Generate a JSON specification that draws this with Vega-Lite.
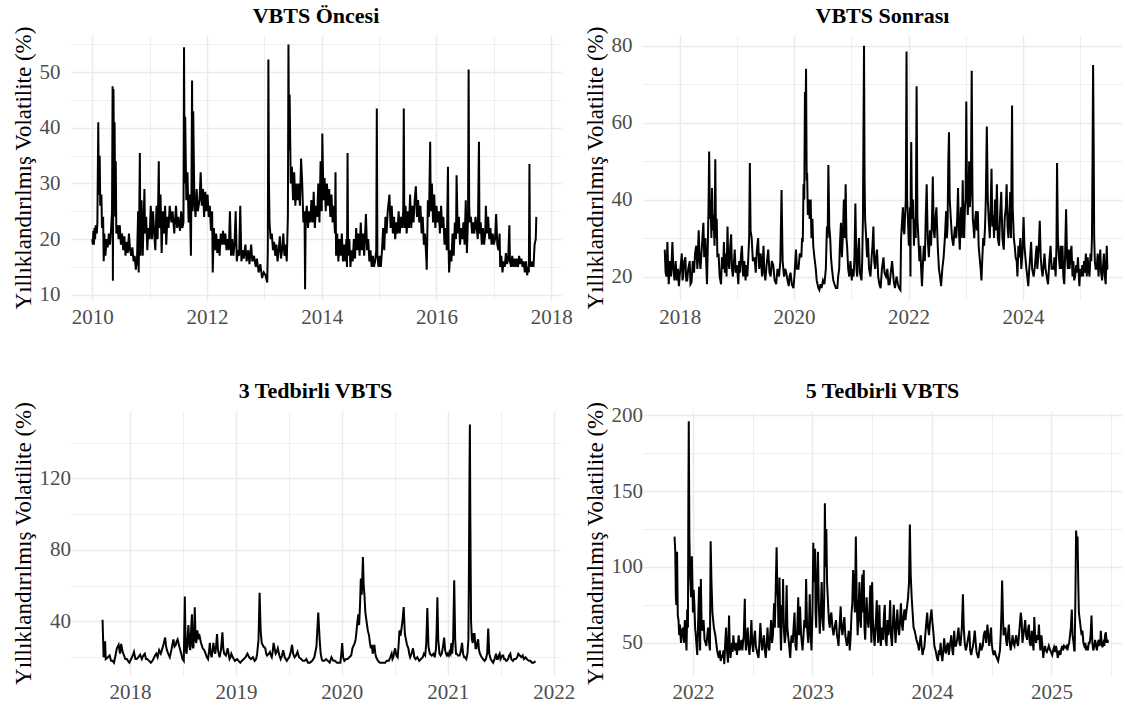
{
"$schema": "https://vega.github.io/schema/vega-lite/v6.json",
"background": "white",
"padding": {"left": 11, "top": 4, "right": 4, "bottom": 2},
"config": {
 "font": "Liberation Serif",
 "view": {"stroke": null},
 "title": {"fontSize": 22, "fontWeight": "bold", "color": "black", "anchor": "middle", "offset": -2},
 "axis": {"domain": false, "ticks": false, "tickSize": 0, "labelFontSize": 21, "labelColor": "#4D4D4D", "titleFontSize": 23, "titleFontWeight": "normal", "titleColor": "black", "gridColor": "#EBEBEB", "labelOverlap": false, "labelFlush": false},
 "axisX": {"labelPadding": 6},
 "axisY": {"labelPadding": 11, "titlePadding": 4},
 "line": {"color": "black", "strokeWidth": 2}
},
"datasets": {
"p1": [
{"t":2010.00,"v":20},{"t":2010.01,"v":19},{"t":2010.02,"v":21.5},{"t":2010.03,"v":19},{"t":2010.04,"v":22},{"t":2010.05,"v":20},{"t":2010.06,"v":22.5},{"t":2010.08,"v":21},{"t":2010.09,"v":23},{"t":2010.105,"v":41},{"t":2010.115,"v":28},{"t":2010.13,"v":35},{"t":2010.14,"v":26},{"t":2010.16,"v":28},{"t":2010.17,"v":22},{"t":2010.19,"v":24},{"t":2010.20,"v":16},{"t":2010.21,"v":21},{"t":2010.23,"v":17},{"t":2010.25,"v":20},{"t":2010.27,"v":18.5},{"t":2010.29,"v":21},{"t":2010.31,"v":19},{"t":2010.33,"v":22},{"t":2010.345,"v":25},{"t":2010.355,"v":47.5},{"t":2010.36,"v":12.5},{"t":2010.37,"v":47},{"t":2010.38,"v":34},{"t":2010.39,"v":41},{"t":2010.40,"v":24},{"t":2010.41,"v":34},{"t":2010.42,"v":21},{"t":2010.44,"v":22.5},{"t":2010.46,"v":20},{"t":2010.48,"v":22.5},{"t":2010.50,"v":19},{"t":2010.52,"v":21},{"t":2010.54,"v":18},{"t":2010.56,"v":20.5},{"t":2010.58,"v":17},{"t":2010.60,"v":19.5},{"t":2010.62,"v":17.5},{"t":2010.64,"v":21},{"t":2010.66,"v":18},{"t":2010.68,"v":17},{"t":2010.70,"v":18.5},{"t":2010.72,"v":16},{"t":2010.74,"v":17},{"t":2010.76,"v":14.5},{"t":2010.78,"v":16},{"t":2010.80,"v":25},{"t":2010.81,"v":14},{"t":2010.83,"v":35.5},{"t":2010.84,"v":17},{"t":2010.86,"v":27},{"t":2010.88,"v":17},{"t":2010.91,"v":29},{"t":2010.92,"v":21},{"t":2010.94,"v":24},{"t":2010.96,"v":18},{"t":2010.98,"v":22},{"t":2011.00,"v":20},{"t":2011.02,"v":26},{"t":2011.04,"v":20},{"t":2011.06,"v":25},{"t":2011.08,"v":21},{"t":2011.10,"v":18},{"t":2011.12,"v":26},{"t":2011.14,"v":20},{"t":2011.16,"v":34},{"t":2011.17,"v":22},{"t":2011.19,"v":28},{"t":2011.21,"v":17.5},{"t":2011.23,"v":25},{"t":2011.25,"v":21},{"t":2011.27,"v":26},{"t":2011.29,"v":19},{"t":2011.31,"v":24},{"t":2011.33,"v":22},{"t":2011.35,"v":26},{"t":2011.38,"v":23},{"t":2011.40,"v":25},{"t":2011.43,"v":21},{"t":2011.46,"v":26},{"t":2011.48,"v":22},{"t":2011.50,"v":24},{"t":2011.53,"v":21.5},{"t":2011.55,"v":25},{"t":2011.57,"v":22},{"t":2011.59,"v":23},{"t":2011.60,"v":54.5},{"t":2011.61,"v":30},{"t":2011.62,"v":42},{"t":2011.64,"v":27},{"t":2011.66,"v":32},{"t":2011.68,"v":23},{"t":2011.70,"v":28},{"t":2011.72,"v":17},{"t":2011.73,"v":30},{"t":2011.74,"v":48.5},{"t":2011.75,"v":25},{"t":2011.76,"v":43},{"t":2011.78,"v":27},{"t":2011.80,"v":24},{"t":2011.82,"v":29},{"t":2011.84,"v":25},{"t":2011.87,"v":27},{"t":2011.89,"v":32},{"t":2011.91,"v":26},{"t":2011.93,"v":29},{"t":2011.95,"v":24},{"t":2011.97,"v":28.5},{"t":2011.99,"v":25},{"t":2012.01,"v":28},{"t":2012.03,"v":24},{"t":2012.05,"v":26},{"t":2012.07,"v":21.5},{"t":2012.09,"v":25},{"t":2012.10,"v":14},{"t":2012.12,"v":22},{"t":2012.14,"v":18},{"t":2012.16,"v":21},{"t":2012.18,"v":17.5},{"t":2012.20,"v":20},{"t":2012.22,"v":17},{"t":2012.24,"v":21},{"t":2012.26,"v":19},{"t":2012.28,"v":21.5},{"t":2012.30,"v":19},{"t":2012.32,"v":21},{"t":2012.34,"v":18},{"t":2012.36,"v":20},{"t":2012.38,"v":18},{"t":2012.40,"v":25},{"t":2012.42,"v":17},{"t":2012.44,"v":20},{"t":2012.46,"v":17},{"t":2012.48,"v":19},{"t":2012.50,"v":25},{"t":2012.52,"v":16},{"t":2012.54,"v":18},{"t":2012.56,"v":17},{"t":2012.58,"v":26},{"t":2012.60,"v":16},{"t":2012.62,"v":18},{"t":2012.64,"v":16.5},{"t":2012.67,"v":19},{"t":2012.69,"v":16},{"t":2012.72,"v":18},{"t":2012.74,"v":15.5},{"t":2012.77,"v":19},{"t":2012.79,"v":16},{"t":2012.82,"v":17},{"t":2012.85,"v":15},{"t":2012.87,"v":16.5},{"t":2012.90,"v":14},{"t":2012.93,"v":15.5},{"t":2012.96,"v":13},{"t":2012.99,"v":14},{"t":2013.02,"v":13.5},{"t":2013.05,"v":12.2},{"t":2013.06,"v":18},{"t":2013.07,"v":52.3},{"t":2013.08,"v":30},{"t":2013.09,"v":23},{"t":2013.11,"v":20},{"t":2013.13,"v":21},{"t":2013.15,"v":18},{"t":2013.17,"v":19.5},{"t":2013.19,"v":17},{"t":2013.21,"v":19},{"t":2013.23,"v":16},{"t":2013.25,"v":18},{"t":2013.27,"v":20.5},{"t":2013.29,"v":16.5},{"t":2013.31,"v":18},{"t":2013.33,"v":21},{"t":2013.35,"v":17},{"t":2013.37,"v":19},{"t":2013.39,"v":16},{"t":2013.40,"v":20},{"t":2013.41,"v":24},{"t":2013.42,"v":55},{"t":2013.43,"v":36},{"t":2013.44,"v":46},{"t":2013.46,"v":30},{"t":2013.48,"v":33},{"t":2013.50,"v":27},{"t":2013.52,"v":32},{"t":2013.54,"v":26},{"t":2013.56,"v":30},{"t":2013.58,"v":27},{"t":2013.60,"v":30},{"t":2013.62,"v":26},{"t":2013.64,"v":34.5},{"t":2013.66,"v":30},{"t":2013.68,"v":23},{"t":2013.70,"v":25},{"t":2013.71,"v":11},{"t":2013.72,"v":24},{"t":2013.74,"v":26},{"t":2013.76,"v":22},{"t":2013.78,"v":25},{"t":2013.80,"v":23},{"t":2013.82,"v":27},{"t":2013.84,"v":23},{"t":2013.86,"v":28.5},{"t":2013.88,"v":22},{"t":2013.90,"v":26},{"t":2013.92,"v":24},{"t":2013.94,"v":30},{"t":2013.96,"v":23},{"t":2013.98,"v":34},{"t":2014.00,"v":25},{"t":2014.01,"v":39},{"t":2014.03,"v":27},{"t":2014.05,"v":31},{"t":2014.07,"v":25},{"t":2014.09,"v":30},{"t":2014.11,"v":26},{"t":2014.13,"v":29},{"t":2014.15,"v":24},{"t":2014.17,"v":28},{"t":2014.19,"v":23},{"t":2014.21,"v":26},{"t":2014.23,"v":21},{"t":2014.24,"v":32},{"t":2014.25,"v":17},{"t":2014.27,"v":21},{"t":2014.29,"v":16},{"t":2014.31,"v":20},{"t":2014.33,"v":17},{"t":2014.35,"v":21},{"t":2014.37,"v":16},{"t":2014.39,"v":19},{"t":2014.41,"v":16},{"t":2014.43,"v":20},{"t":2014.44,"v":15},{"t":2014.45,"v":35.5},{"t":2014.46,"v":17},{"t":2014.48,"v":20},{"t":2014.50,"v":15},{"t":2014.52,"v":18},{"t":2014.54,"v":16},{"t":2014.56,"v":20},{"t":2014.58,"v":16.5},{"t":2014.60,"v":22},{"t":2014.62,"v":18},{"t":2014.64,"v":21},{"t":2014.66,"v":17},{"t":2014.68,"v":23},{"t":2014.70,"v":18},{"t":2014.72,"v":21},{"t":2014.74,"v":17},{"t":2014.77,"v":24.5},{"t":2014.79,"v":18},{"t":2014.81,"v":20},{"t":2014.83,"v":16},{"t":2014.85,"v":18},{"t":2014.87,"v":15},{"t":2014.89,"v":17},{"t":2014.91,"v":15},{"t":2014.93,"v":16},{"t":2014.95,"v":18},{"t":2014.96,"v":43.5},{"t":2014.97,"v":17},{"t":2014.99,"v":15},{"t":2015.01,"v":17},{"t":2015.03,"v":15},{"t":2015.05,"v":18},{"t":2015.07,"v":22},{"t":2015.09,"v":18},{"t":2015.11,"v":24},{"t":2015.13,"v":21},{"t":2015.15,"v":25},{"t":2015.18,"v":28},{"t":2015.20,"v":22},{"t":2015.22,"v":26},{"t":2015.24,"v":21},{"t":2015.26,"v":24},{"t":2015.28,"v":20},{"t":2015.30,"v":23},{"t":2015.32,"v":21},{"t":2015.34,"v":25},{"t":2015.36,"v":21},{"t":2015.38,"v":24},{"t":2015.40,"v":22},{"t":2015.42,"v":25},{"t":2015.43,"v":43.5},{"t":2015.44,"v":22},{"t":2015.46,"v":26},{"t":2015.48,"v":21},{"t":2015.50,"v":25},{"t":2015.52,"v":22},{"t":2015.54,"v":28},{"t":2015.56,"v":22},{"t":2015.58,"v":26},{"t":2015.60,"v":23},{"t":2015.62,"v":27},{"t":2015.64,"v":29.5},{"t":2015.66,"v":24},{"t":2015.68,"v":27},{"t":2015.70,"v":23},{"t":2015.72,"v":26},{"t":2015.74,"v":21},{"t":2015.76,"v":24},{"t":2015.78,"v":19},{"t":2015.80,"v":21},{"t":2015.82,"v":17},{"t":2015.83,"v":14.5},{"t":2015.85,"v":27},{"t":2015.87,"v":24},{"t":2015.89,"v":37.5},{"t":2015.90,"v":25},{"t":2015.92,"v":30},{"t":2015.94,"v":23},{"t":2015.96,"v":28},{"t":2015.98,"v":22},{"t":2016.00,"v":26},{"t":2016.02,"v":23},{"t":2016.04,"v":25},{"t":2016.06,"v":21},{"t":2016.08,"v":26},{"t":2016.10,"v":22},{"t":2016.12,"v":24},{"t":2016.14,"v":19},{"t":2016.16,"v":22},{"t":2016.18,"v":18},{"t":2016.20,"v":33},{"t":2016.21,"v":19},{"t":2016.22,"v":14},{"t":2016.24,"v":18},{"t":2016.26,"v":16},{"t":2016.28,"v":21},{"t":2016.30,"v":17},{"t":2016.32,"v":23},{"t":2016.34,"v":20},{"t":2016.35,"v":31.5},{"t":2016.37,"v":21},{"t":2016.39,"v":24},{"t":2016.41,"v":19},{"t":2016.43,"v":22},{"t":2016.45,"v":20},{"t":2016.47,"v":23},{"t":2016.49,"v":19},{"t":2016.51,"v":27},{"t":2016.53,"v":17.5},{"t":2016.55,"v":24},{"t":2016.56,"v":50.5},{"t":2016.57,"v":26},{"t":2016.58,"v":23},{"t":2016.60,"v":24},{"t":2016.62,"v":21},{"t":2016.64,"v":23},{"t":2016.66,"v":21},{"t":2016.68,"v":24},{"t":2016.70,"v":22},{"t":2016.72,"v":20},{"t":2016.74,"v":37.5},{"t":2016.75,"v":21},{"t":2016.77,"v":23},{"t":2016.79,"v":19},{"t":2016.81,"v":22},{"t":2016.83,"v":19},{"t":2016.85,"v":21},{"t":2016.86,"v":26},{"t":2016.88,"v":21},{"t":2016.90,"v":24},{"t":2016.92,"v":20},{"t":2016.94,"v":22},{"t":2016.96,"v":19},{"t":2016.98,"v":21},{"t":2017.00,"v":19},{"t":2017.02,"v":20},{"t":2017.04,"v":24.5},{"t":2017.06,"v":19},{"t":2017.08,"v":18},{"t":2017.10,"v":21},{"t":2017.11,"v":15},{"t":2017.13,"v":17},{"t":2017.15,"v":14},{"t":2017.17,"v":16},{"t":2017.19,"v":15},{"t":2017.21,"v":17.5},{"t":2017.23,"v":15.5},{"t":2017.25,"v":16.5},{"t":2017.27,"v":22.5},{"t":2017.28,"v":16},{"t":2017.30,"v":15},{"t":2017.32,"v":17},{"t":2017.34,"v":15},{"t":2017.36,"v":16.5},{"t":2017.38,"v":15},{"t":2017.40,"v":16.5},{"t":2017.42,"v":15},{"t":2017.44,"v":17},{"t":2017.46,"v":15.5},{"t":2017.48,"v":16.5},{"t":2017.50,"v":15},{"t":2017.52,"v":16},{"t":2017.54,"v":14},{"t":2017.56,"v":16},{"t":2017.58,"v":13.5},{"t":2017.60,"v":15},{"t":2017.61,"v":14},{"t":2017.62,"v":33.5},{"t":2017.63,"v":16},{"t":2017.65,"v":15},{"t":2017.67,"v":16},{"t":2017.69,"v":15},{"t":2017.71,"v":19},{"t":2017.73,"v":20},{"t":2017.74,"v":24}
],
"p2": [
{"t":2017.74,"v":27},{"t":2017.755,"v":21},{"t":2017.77,"v":20},{"t":2017.786,"v":29},{"t":2017.80,"v":22},{"t":2017.81,"v":18},{"t":2017.83,"v":24},{"t":2017.85,"v":20},{"t":2017.874,"v":29},{"t":2017.89,"v":22},{"t":2017.91,"v":19},{"t":2017.93,"v":24},{"t":2017.95,"v":19},{"t":2017.97,"v":22},{"t":2017.987,"v":17.5},{"t":2018.00,"v":20},{"t":2018.02,"v":23},{"t":2018.038,"v":26},{"t":2018.05,"v":19},{"t":2018.063,"v":20},{"t":2018.08,"v":24},{"t":2018.10,"v":25},{"t":2018.115,"v":19},{"t":2018.132,"v":19},{"t":2018.15,"v":22},{"t":2018.176,"v":24},{"t":2018.19,"v":18},{"t":2018.208,"v":18.5},{"t":2018.23,"v":24},{"t":2018.252,"v":21},{"t":2018.27,"v":26},{"t":2018.29,"v":28},{"t":2018.31,"v":22},{"t":2018.333,"v":32},{"t":2018.35,"v":24},{"t":2018.365,"v":22},{"t":2018.39,"v":28},{"t":2018.415,"v":34},{"t":2018.43,"v":25},{"t":2018.45,"v":30},{"t":2018.478,"v":18},{"t":2018.49,"v":26},{"t":2018.505,"v":38},{"t":2018.516,"v":52.5},{"t":2018.53,"v":35},{"t":2018.541,"v":40},{"t":2018.555,"v":30},{"t":2018.566,"v":43},{"t":2018.58,"v":32},{"t":2018.592,"v":36},{"t":2018.61,"v":28},{"t":2018.623,"v":50.5},{"t":2018.635,"v":30},{"t":2018.648,"v":35},{"t":2018.66,"v":25},{"t":2018.68,"v":26},{"t":2018.70,"v":20},{"t":2018.724,"v":18},{"t":2018.74,"v":25},{"t":2018.76,"v":22},{"t":2018.774,"v":29},{"t":2018.79,"v":21},{"t":2018.806,"v":26},{"t":2018.82,"v":20},{"t":2018.837,"v":33},{"t":2018.85,"v":24},{"t":2018.868,"v":22},{"t":2018.885,"v":28},{"t":2018.90,"v":31},{"t":2018.915,"v":22},{"t":2018.931,"v":20},{"t":2018.95,"v":24},{"t":2018.963,"v":27},{"t":2018.98,"v":21},{"t":2019.00,"v":23},{"t":2019.026,"v":18},{"t":2019.04,"v":24},{"t":2019.057,"v":21},{"t":2019.075,"v":26},{"t":2019.089,"v":28},{"t":2019.11,"v":20},{"t":2019.13,"v":24},{"t":2019.152,"v":19},{"t":2019.17,"v":23},{"t":2019.183,"v":20},{"t":2019.20,"v":25},{"t":2019.215,"v":30},{"t":2019.227,"v":49.5},{"t":2019.24,"v":32},{"t":2019.259,"v":30},{"t":2019.28,"v":24},{"t":2019.309,"v":25},{"t":2019.33,"v":21},{"t":2019.35,"v":27},{"t":2019.372,"v":30},{"t":2019.39,"v":22},{"t":2019.416,"v":26},{"t":2019.44,"v":20},{"t":2019.466,"v":28},{"t":2019.48,"v":21},{"t":2019.498,"v":19},{"t":2019.52,"v":23},{"t":2019.548,"v":27},{"t":2019.57,"v":21},{"t":2019.592,"v":20},{"t":2019.61,"v":24},{"t":2019.636,"v":23},{"t":2019.66,"v":19},{"t":2019.687,"v":18},{"t":2019.71,"v":22},{"t":2019.737,"v":20},{"t":2019.76,"v":24},{"t":2019.781,"v":42.5},{"t":2019.80,"v":24},{"t":2019.825,"v":20},{"t":2019.845,"v":22},{"t":2019.863,"v":21},{"t":2019.885,"v":19},{"t":2019.907,"v":17.5},{"t":2019.92,"v":20},{"t":2019.938,"v":21},{"t":2019.96,"v":18},{"t":2019.989,"v":17},{"t":2020.01,"v":21},{"t":2020.033,"v":27},{"t":2020.05,"v":22},{"t":2020.077,"v":22},{"t":2020.10,"v":26},{"t":2020.127,"v":25},{"t":2020.14,"v":30},{"t":2020.152,"v":29},{"t":2020.165,"v":44},{"t":2020.178,"v":40},{"t":2020.19,"v":68},{"t":2020.196,"v":55},{"t":2020.209,"v":74},{"t":2020.22,"v":45},{"t":2020.228,"v":47},{"t":2020.24,"v":36},{"t":2020.255,"v":40},{"t":2020.272,"v":35},{"t":2020.29,"v":40},{"t":2020.303,"v":30},{"t":2020.32,"v":35},{"t":2020.335,"v":28},{"t":2020.355,"v":25},{"t":2020.379,"v":22},{"t":2020.395,"v":19},{"t":2020.41,"v":18},{"t":2020.425,"v":17},{"t":2020.442,"v":16.5},{"t":2020.46,"v":18},{"t":2020.48,"v":17},{"t":2020.505,"v":19},{"t":2020.53,"v":18},{"t":2020.555,"v":22},{"t":2020.565,"v":28},{"t":2020.574,"v":33},{"t":2020.587,"v":30},{"t":2020.599,"v":49},{"t":2020.615,"v":33},{"t":2020.631,"v":30},{"t":2020.645,"v":25},{"t":2020.662,"v":22},{"t":2020.685,"v":19},{"t":2020.706,"v":18},{"t":2020.73,"v":17},{"t":2020.756,"v":17},{"t":2020.77,"v":20},{"t":2020.788,"v":22},{"t":2020.80,"v":28},{"t":2020.819,"v":34},{"t":2020.835,"v":25},{"t":2020.851,"v":30},{"t":2020.87,"v":40},{"t":2020.885,"v":30},{"t":2020.901,"v":44},{"t":2020.915,"v":30},{"t":2020.926,"v":28},{"t":2020.945,"v":22},{"t":2020.964,"v":20},{"t":2020.985,"v":24},{"t":2021.008,"v":19},{"t":2021.025,"v":22},{"t":2021.04,"v":20},{"t":2021.055,"v":25},{"t":2021.071,"v":39},{"t":2021.09,"v":22},{"t":2021.103,"v":20},{"t":2021.12,"v":27},{"t":2021.134,"v":30},{"t":2021.15,"v":21},{"t":2021.178,"v":19},{"t":2021.19,"v":24},{"t":2021.203,"v":35},{"t":2021.222,"v":80},{"t":2021.232,"v":45},{"t":2021.241,"v":35},{"t":2021.26,"v":30},{"t":2021.275,"v":25},{"t":2021.291,"v":30},{"t":2021.31,"v":22},{"t":2021.335,"v":20},{"t":2021.355,"v":25},{"t":2021.37,"v":28},{"t":2021.386,"v":33},{"t":2021.40,"v":24},{"t":2021.417,"v":22},{"t":2021.43,"v":25},{"t":2021.449,"v":27},{"t":2021.47,"v":20},{"t":2021.49,"v":18},{"t":2021.512,"v":17},{"t":2021.535,"v":22},{"t":2021.562,"v":25},{"t":2021.58,"v":21},{"t":2021.606,"v":20},{"t":2021.63,"v":22},{"t":2021.65,"v":18},{"t":2021.669,"v":18},{"t":2021.69,"v":21},{"t":2021.713,"v":24},{"t":2021.74,"v":19},{"t":2021.763,"v":17},{"t":2021.79,"v":20},{"t":2021.814,"v":18},{"t":2021.835,"v":17},{"t":2021.858,"v":16.5},{"t":2021.87,"v":30},{"t":2021.885,"v":34},{"t":2021.902,"v":38},{"t":2021.915,"v":32},{"t":2021.927,"v":31},{"t":2021.94,"v":36},{"t":2021.952,"v":40},{"t":2021.965,"v":78.5},{"t":2021.975,"v":40},{"t":2021.99,"v":35},{"t":2022.005,"v":28},{"t":2022.015,"v":30},{"t":2022.025,"v":38},{"t":2022.034,"v":20},{"t":2022.04,"v":45},{"t":2022.047,"v":55},{"t":2022.06,"v":35},{"t":2022.078,"v":40},{"t":2022.095,"v":28},{"t":2022.11,"v":35},{"t":2022.125,"v":30},{"t":2022.141,"v":69.5},{"t":2022.155,"v":35},{"t":2022.172,"v":30},{"t":2022.19,"v":24},{"t":2022.204,"v":28},{"t":2022.22,"v":22},{"t":2022.235,"v":17.5},{"t":2022.25,"v":23},{"t":2022.267,"v":28},{"t":2022.285,"v":24},{"t":2022.30,"v":35},{"t":2022.317,"v":44},{"t":2022.335,"v":30},{"t":2022.355,"v":25},{"t":2022.375,"v":32},{"t":2022.393,"v":28},{"t":2022.41,"v":35},{"t":2022.424,"v":46},{"t":2022.44,"v":32},{"t":2022.456,"v":30},{"t":2022.47,"v":35},{"t":2022.487,"v":38},{"t":2022.51,"v":28},{"t":2022.531,"v":22},{"t":2022.55,"v":20},{"t":2022.569,"v":17.5},{"t":2022.59,"v":22},{"t":2022.613,"v":25},{"t":2022.635,"v":30},{"t":2022.657,"v":37},{"t":2022.67,"v":30},{"t":2022.682,"v":33},{"t":2022.695,"v":50},{"t":2022.707,"v":57.5},{"t":2022.72,"v":40},{"t":2022.739,"v":35},{"t":2022.76,"v":30},{"t":2022.783,"v":28},{"t":2022.81,"v":33},{"t":2022.833,"v":30},{"t":2022.85,"v":35},{"t":2022.865,"v":43},{"t":2022.88,"v":32},{"t":2022.896,"v":27},{"t":2022.915,"v":38},{"t":2022.93,"v":30},{"t":2022.947,"v":45},{"t":2022.96,"v":32},{"t":2022.972,"v":30},{"t":2022.985,"v":38},{"t":2022.997,"v":40},{"t":2023.009,"v":65.5},{"t":2023.02,"v":45},{"t":2023.035,"v":36},{"t":2023.048,"v":42},{"t":2023.06,"v":50},{"t":2023.07,"v":38},{"t":2023.079,"v":40},{"t":2023.09,"v":45},{"t":2023.104,"v":73.5},{"t":2023.115,"v":45},{"t":2023.123,"v":35},{"t":2023.135,"v":33},{"t":2023.148,"v":30},{"t":2023.165,"v":35},{"t":2023.179,"v":37},{"t":2023.195,"v":32},{"t":2023.211,"v":37},{"t":2023.225,"v":28},{"t":2023.242,"v":25},{"t":2023.26,"v":22},{"t":2023.274,"v":19},{"t":2023.29,"v":25},{"t":2023.305,"v":30},{"t":2023.32,"v":28},{"t":2023.337,"v":33},{"t":2023.35,"v":40},{"t":2023.368,"v":59},{"t":2023.385,"v":40},{"t":2023.40,"v":35},{"t":2023.42,"v":30},{"t":2023.435,"v":38},{"t":2023.45,"v":48},{"t":2023.465,"v":33},{"t":2023.48,"v":36},{"t":2023.494,"v":30},{"t":2023.51,"v":40},{"t":2023.525,"v":32},{"t":2023.544,"v":44},{"t":2023.56,"v":30},{"t":2023.582,"v":28},{"t":2023.60,"v":36},{"t":2023.62,"v":42},{"t":2023.64,"v":30},{"t":2023.664,"v":27},{"t":2023.68,"v":35},{"t":2023.70,"v":38},{"t":2023.714,"v":44},{"t":2023.73,"v":33},{"t":2023.746,"v":30},{"t":2023.76,"v":36},{"t":2023.777,"v":42},{"t":2023.79,"v":30},{"t":2023.809,"v":64.5},{"t":2023.82,"v":38},{"t":2023.84,"v":30},{"t":2023.855,"v":28},{"t":2023.872,"v":25},{"t":2023.89,"v":24},{"t":2023.903,"v":20},{"t":2023.92,"v":28},{"t":2023.935,"v":25},{"t":2023.953,"v":30},{"t":2023.97,"v":22},{"t":2023.99,"v":26},{"t":2024.01,"v":35.5},{"t":2024.025,"v":28},{"t":2024.042,"v":25},{"t":2024.06,"v":22},{"t":2024.075,"v":20},{"t":2024.092,"v":17.5},{"t":2024.11,"v":22},{"t":2024.125,"v":25},{"t":2024.142,"v":29},{"t":2024.16,"v":22},{"t":2024.186,"v":20},{"t":2024.21,"v":23},{"t":2024.237,"v":28},{"t":2024.25,"v":22},{"t":2024.265,"v":25},{"t":2024.28,"v":29},{"t":2024.293,"v":34.5},{"t":2024.31,"v":25},{"t":2024.325,"v":22},{"t":2024.343,"v":20},{"t":2024.36,"v":23},{"t":2024.375,"v":26},{"t":2024.394,"v":22},{"t":2024.415,"v":20},{"t":2024.438,"v":18},{"t":2024.46,"v":24},{"t":2024.482,"v":28},{"t":2024.50,"v":22},{"t":2024.532,"v":22},{"t":2024.55,"v":25},{"t":2024.57,"v":20},{"t":2024.585,"v":28},{"t":2024.595,"v":49.5},{"t":2024.61,"v":30},{"t":2024.627,"v":25},{"t":2024.645,"v":22},{"t":2024.66,"v":28},{"t":2024.675,"v":22},{"t":2024.69,"v":28},{"t":2024.705,"v":20},{"t":2024.721,"v":18},{"t":2024.735,"v":25},{"t":2024.753,"v":37.5},{"t":2024.77,"v":25},{"t":2024.784,"v":22},{"t":2024.80,"v":27},{"t":2024.815,"v":22},{"t":2024.83,"v":26},{"t":2024.847,"v":28},{"t":2024.865,"v":20},{"t":2024.88,"v":24},{"t":2024.895,"v":19},{"t":2024.91,"v":20},{"t":2024.93,"v":23},{"t":2024.945,"v":21},{"t":2024.96,"v":25},{"t":2024.985,"v":17.5},{"t":2025.00,"v":22},{"t":2025.02,"v":20},{"t":2025.036,"v":23},{"t":2025.05,"v":20},{"t":2025.067,"v":24},{"t":2025.08,"v":21},{"t":2025.099,"v":26},{"t":2025.115,"v":20},{"t":2025.13,"v":25},{"t":2025.145,"v":22},{"t":2025.162,"v":20},{"t":2025.18,"v":26},{"t":2025.193,"v":24},{"t":2025.205,"v":30},{"t":2025.215,"v":50},{"t":2025.225,"v":75},{"t":2025.235,"v":55},{"t":2025.244,"v":30},{"t":2025.256,"v":24},{"t":2025.27,"v":22},{"t":2025.288,"v":22},{"t":2025.305,"v":26},{"t":2025.32,"v":20},{"t":2025.335,"v":24},{"t":2025.351,"v":27},{"t":2025.365,"v":21},{"t":2025.382,"v":19},{"t":2025.40,"v":23},{"t":2025.414,"v":26},{"t":2025.43,"v":20},{"t":2025.445,"v":18},{"t":2025.455,"v":24},{"t":2025.464,"v":28},{"t":2025.475,"v":22},{"t":2025.489,"v":22}
],
"p3": [
{"t":2017.74,"v":41},{"t":2017.75,"v":20},{"t":2017.757,"v":22},{"t":2017.764,"v":29},{"t":2017.77,"v":19},{"t":2017.79,"v":20},{"t":2017.807,"v":21},{"t":2017.82,"v":18},{"t":2017.834,"v":18},{"t":2017.848,"v":17},{"t":2017.862,"v":21},{"t":2017.875,"v":25},{"t":2017.892,"v":27},{"t":2017.905,"v":22},{"t":2017.916,"v":27.5},{"t":2017.93,"v":23},{"t":2017.943,"v":21},{"t":2017.955,"v":19},{"t":2017.97,"v":19},{"t":2017.98,"v":18},{"t":2017.993,"v":17},{"t":2018.01,"v":19},{"t":2018.025,"v":21},{"t":2018.037,"v":23},{"t":2018.05,"v":19},{"t":2018.061,"v":19},{"t":2018.078,"v":20},{"t":2018.095,"v":21.5},{"t":2018.111,"v":19},{"t":2018.125,"v":21},{"t":2018.139,"v":22},{"t":2018.15,"v":19},{"t":2018.162,"v":19},{"t":2018.18,"v":18},{"t":2018.196,"v":17},{"t":2018.21,"v":18},{"t":2018.22,"v":19},{"t":2018.235,"v":21},{"t":2018.247,"v":22},{"t":2018.26,"v":20},{"t":2018.274,"v":24},{"t":2018.29,"v":22},{"t":2018.30,"v":24},{"t":2018.315,"v":27},{"t":2018.331,"v":31},{"t":2018.34,"v":26},{"t":2018.348,"v":24},{"t":2018.36,"v":22},{"t":2018.375,"v":20},{"t":2018.39,"v":24},{"t":2018.409,"v":30},{"t":2018.42,"v":26},{"t":2018.432,"v":27},{"t":2018.44,"v":29},{"t":2018.449,"v":30},{"t":2018.465,"v":26},{"t":2018.483,"v":22},{"t":2018.495,"v":19},{"t":2018.507,"v":18},{"t":2018.517,"v":54},{"t":2018.525,"v":24},{"t":2018.534,"v":22},{"t":2018.542,"v":30},{"t":2018.551,"v":38},{"t":2018.56,"v":26},{"t":2018.568,"v":24},{"t":2018.576,"v":35},{"t":2018.584,"v":44},{"t":2018.59,"v":26},{"t":2018.598,"v":25},{"t":2018.605,"v":35},{"t":2018.611,"v":48},{"t":2018.618,"v":30},{"t":2018.625,"v":28},{"t":2018.635,"v":35},{"t":2018.645,"v":30},{"t":2018.652,"v":33},{"t":2018.67,"v":28},{"t":2018.686,"v":25},{"t":2018.70,"v":24},{"t":2018.713,"v":22},{"t":2018.725,"v":20},{"t":2018.736,"v":19},{"t":2018.745,"v":23},{"t":2018.753,"v":28},{"t":2018.762,"v":22},{"t":2018.77,"v":20},{"t":2018.78,"v":24},{"t":2018.787,"v":28},{"t":2018.795,"v":24},{"t":2018.804,"v":22},{"t":2018.812,"v":26},{"t":2018.821,"v":33},{"t":2018.83,"v":24},{"t":2018.845,"v":20},{"t":2018.858,"v":24},{"t":2018.872,"v":34},{"t":2018.88,"v":25},{"t":2018.889,"v":22},{"t":2018.905,"v":21},{"t":2018.922,"v":25},{"t":2018.93,"v":22},{"t":2018.939,"v":19},{"t":2018.948,"v":20},{"t":2018.956,"v":22},{"t":2018.97,"v":20},{"t":2018.99,"v":18},{"t":2019.01,"v":19},{"t":2019.025,"v":18},{"t":2019.041,"v":17},{"t":2019.055,"v":18},{"t":2019.074,"v":19},{"t":2019.09,"v":20},{"t":2019.108,"v":22},{"t":2019.125,"v":20},{"t":2019.142,"v":19},{"t":2019.16,"v":20},{"t":2019.176,"v":18},{"t":2019.19,"v":19},{"t":2019.20,"v":22},{"t":2019.213,"v":30},{"t":2019.223,"v":56},{"t":2019.233,"v":35},{"t":2019.243,"v":28},{"t":2019.26,"v":26},{"t":2019.277,"v":25},{"t":2019.285,"v":22},{"t":2019.294,"v":21},{"t":2019.31,"v":22},{"t":2019.321,"v":23},{"t":2019.33,"v":21},{"t":2019.338,"v":20},{"t":2019.347,"v":23},{"t":2019.355,"v":28},{"t":2019.365,"v":25},{"t":2019.375,"v":22},{"t":2019.385,"v":23},{"t":2019.395,"v":25},{"t":2019.41,"v":21},{"t":2019.422,"v":19},{"t":2019.435,"v":21},{"t":2019.446,"v":24},{"t":2019.46,"v":20},{"t":2019.48,"v":18},{"t":2019.49,"v":19},{"t":2019.503,"v":20},{"t":2019.517,"v":23},{"t":2019.53,"v":27},{"t":2019.54,"v":22},{"t":2019.554,"v":20},{"t":2019.567,"v":21},{"t":2019.581,"v":23},{"t":2019.595,"v":20},{"t":2019.615,"v":19},{"t":2019.632,"v":18},{"t":2019.649,"v":18},{"t":2019.665,"v":19},{"t":2019.68,"v":17},{"t":2019.699,"v":17},{"t":2019.72,"v":18},{"t":2019.74,"v":20},{"t":2019.76,"v":26},{"t":2019.777,"v":45},{"t":2019.79,"v":30},{"t":2019.80,"v":22},{"t":2019.81,"v":19},{"t":2019.818,"v":18},{"t":2019.835,"v":18},{"t":2019.851,"v":19},{"t":2019.868,"v":18},{"t":2019.885,"v":17},{"t":2019.902,"v":20},{"t":2019.92,"v":18},{"t":2019.935,"v":18},{"t":2019.953,"v":17},{"t":2019.97,"v":17},{"t":2019.986,"v":17},{"t":2019.995,"v":22},{"t":2020.003,"v":28},{"t":2020.012,"v":20},{"t":2020.024,"v":18},{"t":2020.04,"v":19},{"t":2020.054,"v":19},{"t":2020.07,"v":20},{"t":2020.088,"v":21},{"t":2020.10,"v":25},{"t":2020.122,"v":28},{"t":2020.13,"v":30},{"t":2020.139,"v":35},{"t":2020.147,"v":40},{"t":2020.155,"v":44},{"t":2020.163,"v":38},{"t":2020.172,"v":50},{"t":2020.179,"v":64},{"t":2020.188,"v":55},{"t":2020.199,"v":76},{"t":2020.206,"v":60},{"t":2020.213,"v":55},{"t":2020.222,"v":45},{"t":2020.233,"v":40},{"t":2020.245,"v":35},{"t":2020.257,"v":32},{"t":2020.265,"v":28},{"t":2020.274,"v":25},{"t":2020.283,"v":27},{"t":2020.291,"v":22},{"t":2020.30,"v":25},{"t":2020.307,"v":27},{"t":2020.316,"v":22},{"t":2020.324,"v":20},{"t":2020.333,"v":19},{"t":2020.341,"v":18},{"t":2020.36,"v":17},{"t":2020.375,"v":17},{"t":2020.39,"v":17},{"t":2020.409,"v":17},{"t":2020.425,"v":18},{"t":2020.443,"v":18},{"t":2020.457,"v":20},{"t":2020.47,"v":22},{"t":2020.478,"v":19},{"t":2020.486,"v":20},{"t":2020.495,"v":23},{"t":2020.503,"v":25},{"t":2020.515,"v":21},{"t":2020.527,"v":20},{"t":2020.535,"v":26},{"t":2020.544,"v":35},{"t":2020.553,"v":32},{"t":2020.561,"v":35},{"t":2020.572,"v":40},{"t":2020.584,"v":48},{"t":2020.595,"v":33},{"t":2020.605,"v":30},{"t":2020.615,"v":27},{"t":2020.628,"v":25},{"t":2020.636,"v":22},{"t":2020.645,"v":20},{"t":2020.658,"v":22},{"t":2020.672,"v":25},{"t":2020.685,"v":20},{"t":2020.696,"v":19},{"t":2020.713,"v":20},{"t":2020.73,"v":18},{"t":2020.747,"v":19},{"t":2020.764,"v":20},{"t":2020.775,"v":22},{"t":2020.787,"v":21},{"t":2020.797,"v":28},{"t":2020.807,"v":47.5},{"t":2020.818,"v":26},{"t":2020.831,"v":22},{"t":2020.848,"v":21},{"t":2020.865,"v":22},{"t":2020.877,"v":20},{"t":2020.889,"v":25},{"t":2020.895,"v":35},{"t":2020.902,"v":53.5},{"t":2020.91,"v":30},{"t":2020.922,"v":22},{"t":2020.932,"v":21},{"t":2020.943,"v":22},{"t":2020.955,"v":26},{"t":2020.966,"v":31},{"t":2020.975,"v":24},{"t":2020.983,"v":22},{"t":2020.992,"v":21},{"t":2021.0,"v":22},{"t":2021.01,"v":21},{"t":2021.017,"v":23},{"t":2021.026,"v":22},{"t":2021.034,"v":28},{"t":2021.042,"v":22},{"t":2021.051,"v":30},{"t":2021.061,"v":63},{"t":2021.07,"v":30},{"t":2021.078,"v":22},{"t":2021.084,"v":22},{"t":2021.097,"v":21},{"t":2021.111,"v":21},{"t":2021.122,"v":23},{"t":2021.135,"v":28},{"t":2021.145,"v":22},{"t":2021.155,"v":20},{"t":2021.162,"v":20},{"t":2021.175,"v":19},{"t":2021.186,"v":22},{"t":2021.195,"v":30},{"t":2021.199,"v":60},{"t":2021.205,"v":120},{"t":2021.209,"v":150},{"t":2021.213,"v":100},{"t":2021.22,"v":40},{"t":2021.228,"v":30},{"t":2021.236,"v":28},{"t":2021.245,"v":33},{"t":2021.253,"v":33},{"t":2021.262,"v":25},{"t":2021.27,"v":25},{"t":2021.278,"v":28},{"t":2021.287,"v":30},{"t":2021.295,"v":24},{"t":2021.304,"v":22},{"t":2021.312,"v":21},{"t":2021.321,"v":20},{"t":2021.333,"v":19},{"t":2021.348,"v":18},{"t":2021.36,"v":19},{"t":2021.372,"v":22},{"t":2021.382,"v":36},{"t":2021.392,"v":22},{"t":2021.405,"v":19},{"t":2021.417,"v":18},{"t":2021.429,"v":17},{"t":2021.442,"v":19},{"t":2021.456,"v":22},{"t":2021.465,"v":19},{"t":2021.473,"v":19},{"t":2021.482,"v":21},{"t":2021.49,"v":22},{"t":2021.498,"v":19},{"t":2021.507,"v":20},{"t":2021.515,"v":21},{"t":2021.524,"v":21},{"t":2021.532,"v":19},{"t":2021.541,"v":19},{"t":2021.55,"v":18},{"t":2021.557,"v":18},{"t":2021.57,"v":19},{"t":2021.58,"v":21},{"t":2021.591,"v":22},{"t":2021.6,"v":19},{"t":2021.615,"v":18},{"t":2021.628,"v":19},{"t":2021.642,"v":19},{"t":2021.655,"v":20},{"t":2021.666,"v":22},{"t":2021.68,"v":21},{"t":2021.696,"v":20},{"t":2021.708,"v":21},{"t":2021.72,"v":19},{"t":2021.735,"v":20},{"t":2021.747,"v":19},{"t":2021.765,"v":18},{"t":2021.78,"v":18},{"t":2021.795,"v":17},{"t":2021.81,"v":17},{"t":2021.82,"v":17.5},{"t":2021.828,"v":17}
],
"p4": [
{"t":2021.846,"v":120},{"t":2021.852,"v":110},{"t":2021.857,"v":80},{"t":2021.861,"v":75},{"t":2021.867,"v":110},{"t":2021.873,"v":68},{"t":2021.879,"v":65},{"t":2021.885,"v":55},{"t":2021.891,"v":62},{"t":2021.90,"v":50},{"t":2021.908,"v":58},{"t":2021.916,"v":60},{"t":2021.925,"v":50},{"t":2021.932,"v":65},{"t":2021.94,"v":55},{"t":2021.946,"v":45},{"t":2021.952,"v":72},{"t":2021.958,"v":60},{"t":2021.962,"v":150},{"t":2021.965,"v":196},{"t":2021.97,"v":120},{"t":2021.976,"v":95},{"t":2021.984,"v":80},{"t":2021.991,"v":107},{"t":2022.0,"v":70},{"t":2022.006,"v":85},{"t":2022.012,"v":75},{"t":2022.018,"v":60},{"t":2022.024,"v":55},{"t":2022.03,"v":48},{"t":2022.036,"v":42},{"t":2022.044,"v":65},{"t":2022.051,"v":87},{"t":2022.056,"v":60},{"t":2022.06,"v":45},{"t":2022.066,"v":92},{"t":2022.073,"v":60},{"t":2022.081,"v":58},{"t":2022.089,"v":65},{"t":2022.097,"v":52},{"t":2022.105,"v":50},{"t":2022.112,"v":48},{"t":2022.12,"v":55},{"t":2022.127,"v":60},{"t":2022.135,"v":50},{"t":2022.142,"v":45},{"t":2022.148,"v":117},{"t":2022.155,"v":90},{"t":2022.163,"v":70},{"t":2022.175,"v":60},{"t":2022.187,"v":55},{"t":2022.195,"v":50},{"t":2022.202,"v":45},{"t":2022.21,"v":42},{"t":2022.217,"v":40},{"t":2022.225,"v":45},{"t":2022.232,"v":38},{"t":2022.24,"v":42},{"t":2022.247,"v":40},{"t":2022.255,"v":45},{"t":2022.262,"v":36},{"t":2022.27,"v":50},{"t":2022.277,"v":60},{"t":2022.285,"v":45},{"t":2022.293,"v":37},{"t":2022.302,"v":68},{"t":2022.308,"v":48},{"t":2022.314,"v":40},{"t":2022.32,"v":45},{"t":2022.326,"v":50},{"t":2022.332,"v":44},{"t":2022.338,"v":55},{"t":2022.345,"v":48},{"t":2022.353,"v":45},{"t":2022.36,"v":50},{"t":2022.368,"v":42},{"t":2022.375,"v":48},{"t":2022.383,"v":55},{"t":2022.39,"v":45},{"t":2022.398,"v":48},{"t":2022.405,"v":52},{"t":2022.413,"v":45},{"t":2022.425,"v":55},{"t":2022.434,"v":79},{"t":2022.438,"v":55},{"t":2022.443,"v":45},{"t":2022.45,"v":52},{"t":2022.458,"v":60},{"t":2022.465,"v":48},{"t":2022.473,"v":42},{"t":2022.48,"v":50},{"t":2022.489,"v":65},{"t":2022.496,"v":50},{"t":2022.504,"v":44},{"t":2022.51,"v":52},{"t":2022.519,"v":58},{"t":2022.526,"v":48},{"t":2022.534,"v":45},{"t":2022.542,"v":42},{"t":2022.549,"v":40},{"t":2022.556,"v":50},{"t":2022.564,"v":63},{"t":2022.572,"v":52},{"t":2022.579,"v":45},{"t":2022.586,"v":50},{"t":2022.594,"v":55},{"t":2022.602,"v":45},{"t":2022.609,"v":40},{"t":2022.616,"v":48},{"t":2022.624,"v":60},{"t":2022.631,"v":48},{"t":2022.639,"v":45},{"t":2022.646,"v":55},{"t":2022.654,"v":65},{"t":2022.662,"v":50},{"t":2022.669,"v":55},{"t":2022.679,"v":76},{"t":2022.685,"v":60},{"t":2022.691,"v":80},{"t":2022.70,"v":113},{"t":2022.706,"v":85},{"t":2022.711,"v":80},{"t":2022.715,"v":60},{"t":2022.72,"v":70},{"t":2022.724,"v":93},{"t":2022.73,"v":65},{"t":2022.737,"v":45},{"t":2022.745,"v":75},{"t":2022.75,"v":65},{"t":2022.754,"v":92},{"t":2022.76,"v":60},{"t":2022.768,"v":50},{"t":2022.775,"v":55},{"t":2022.784,"v":88},{"t":2022.79,"v":60},{"t":2022.796,"v":55},{"t":2022.805,"v":48},{"t":2022.814,"v":40},{"t":2022.82,"v":50},{"t":2022.826,"v":55},{"t":2022.835,"v":50},{"t":2022.842,"v":60},{"t":2022.85,"v":70},{"t":2022.858,"v":48},{"t":2022.866,"v":45},{"t":2022.873,"v":60},{"t":2022.881,"v":80},{"t":2022.887,"v":55},{"t":2022.896,"v":74},{"t":2022.905,"v":55},{"t":2022.917,"v":45},{"t":2022.925,"v":55},{"t":2022.932,"v":65},{"t":2022.94,"v":60},{"t":2022.947,"v":92},{"t":2022.955,"v":60},{"t":2022.965,"v":50},{"t":2022.971,"v":60},{"t":2022.977,"v":82},{"t":2022.985,"v":55},{"t":2022.992,"v":45},{"t":2023.0,"v":70},{"t":2023.007,"v":116},{"t":2023.012,"v":90},{"t":2023.016,"v":100},{"t":2023.022,"v":112},{"t":2023.026,"v":70},{"t":2023.031,"v":60},{"t":2023.038,"v":90},{"t":2023.046,"v":110},{"t":2023.053,"v":75},{"t":2023.061,"v":56},{"t":2023.069,"v":70},{"t":2023.077,"v":90},{"t":2023.085,"v":65},{"t":2023.092,"v":58},{"t":2023.098,"v":80},{"t":2023.104,"v":142},{"t":2023.11,"v":100},{"t":2023.116,"v":125},{"t":2023.122,"v":90},{"t":2023.128,"v":80},{"t":2023.137,"v":65},{"t":2023.145,"v":60},{"t":2023.152,"v":68},{"t":2023.158,"v":70},{"t":2023.167,"v":60},{"t":2023.176,"v":55},{"t":2023.185,"v":60},{"t":2023.197,"v":65},{"t":2023.205,"v":55},{"t":2023.212,"v":52},{"t":2023.218,"v":48},{"t":2023.226,"v":60},{"t":2023.236,"v":74},{"t":2023.243,"v":60},{"t":2023.251,"v":55},{"t":2023.259,"v":62},{"t":2023.267,"v":67},{"t":2023.275,"v":55},{"t":2023.288,"v":48},{"t":2023.296,"v":52},{"t":2023.303,"v":58},{"t":2023.312,"v":45},{"t":2023.32,"v":55},{"t":2023.327,"v":70},{"t":2023.333,"v":75},{"t":2023.34,"v":98},{"t":2023.348,"v":85},{"t":2023.355,"v":70},{"t":2023.363,"v":120},{"t":2023.37,"v":80},{"t":2023.378,"v":55},{"t":2023.385,"v":70},{"t":2023.393,"v":90},{"t":2023.399,"v":65},{"t":2023.405,"v":60},{"t":2023.411,"v":80},{"t":2023.417,"v":95},{"t":2023.423,"v":70},{"t":2023.429,"v":98},{"t":2023.435,"v":60},{"t":2023.441,"v":52},{"t":2023.447,"v":65},{"t":2023.453,"v":80},{"t":2023.461,"v":65},{"t":2023.469,"v":60},{"t":2023.476,"v":70},{"t":2023.484,"v":88},{"t":2023.49,"v":60},{"t":2023.493,"v":50},{"t":2023.499,"v":90},{"t":2023.506,"v":65},{"t":2023.513,"v":55},{"t":2023.52,"v":48},{"t":2023.528,"v":60},{"t":2023.538,"v":78},{"t":2023.544,"v":60},{"t":2023.55,"v":50},{"t":2023.556,"v":65},{"t":2023.56,"v":75},{"t":2023.566,"v":55},{"t":2023.572,"v":48},{"t":2023.581,"v":60},{"t":2023.59,"v":52},{"t":2023.598,"v":68},{"t":2023.605,"v":75},{"t":2023.612,"v":52},{"t":2023.62,"v":48},{"t":2023.628,"v":65},{"t":2023.635,"v":55},{"t":2023.642,"v":60},{"t":2023.65,"v":78},{"t":2023.657,"v":55},{"t":2023.665,"v":48},{"t":2023.672,"v":60},{"t":2023.68,"v":75},{"t":2023.686,"v":65},{"t":2023.689,"v":60},{"t":2023.695,"v":50},{"t":2023.703,"v":62},{"t":2023.71,"v":72},{"t":2023.718,"v":60},{"t":2023.725,"v":55},{"t":2023.733,"v":65},{"t":2023.74,"v":76},{"t":2023.748,"v":62},{"t":2023.755,"v":58},{"t":2023.763,"v":68},{"t":2023.77,"v":72},{"t":2023.778,"v":65},{"t":2023.785,"v":70},{"t":2023.793,"v":75},{"t":2023.80,"v":80},{"t":2023.808,"v":90},{"t":2023.815,"v":128},{"t":2023.822,"v":95},{"t":2023.83,"v":80},{"t":2023.838,"v":70},{"t":2023.846,"v":60},{"t":2023.855,"v":58},{"t":2023.863,"v":55},{"t":2023.87,"v":52},{"t":2023.878,"v":50},{"t":2023.885,"v":48},{"t":2023.891,"v":45},{"t":2023.898,"v":50},{"t":2023.906,"v":55},{"t":2023.913,"v":48},{"t":2023.921,"v":42},{"t":2023.928,"v":45},{"t":2023.936,"v":47},{"t":2023.944,"v":55},{"t":2023.951,"v":62},{"t":2023.96,"v":70},{"t":2023.967,"v":60},{"t":2023.975,"v":55},{"t":2023.985,"v":65},{"t":2023.996,"v":72},{"t":2024.002,"v":65},{"t":2024.008,"v":60},{"t":2024.014,"v":55},{"t":2024.02,"v":48},{"t":2024.03,"v":45},{"t":2024.042,"v":40},{"t":2024.05,"v":38},{"t":2024.057,"v":45},{"t":2024.065,"v":42},{"t":2024.072,"v":50},{"t":2024.08,"v":42},{"t":2024.087,"v":38},{"t":2024.095,"v":45},{"t":2024.102,"v":53},{"t":2024.11,"v":45},{"t":2024.117,"v":43},{"t":2024.125,"v":48},{"t":2024.133,"v":50},{"t":2024.141,"v":42},{"t":2024.15,"v":48},{"t":2024.162,"v":55},{"t":2024.17,"v":45},{"t":2024.177,"v":42},{"t":2024.186,"v":58},{"t":2024.193,"v":48},{"t":2024.201,"v":48},{"t":2024.21,"v":52},{"t":2024.222,"v":60},{"t":2024.23,"v":50},{"t":2024.238,"v":48},{"t":2024.245,"v":55},{"t":2024.25,"v":60},{"t":2024.259,"v":82},{"t":2024.266,"v":60},{"t":2024.274,"v":50},{"t":2024.283,"v":45},{"t":2024.292,"v":48},{"t":2024.3,"v":52},{"t":2024.313,"v":58},{"t":2024.32,"v":45},{"t":2024.328,"v":42},{"t":2024.335,"v":45},{"t":2024.343,"v":48},{"t":2024.35,"v":52},{"t":2024.358,"v":58},{"t":2024.366,"v":50},{"t":2024.373,"v":44},{"t":2024.38,"v":42},{"t":2024.388,"v":40},{"t":2024.396,"v":45},{"t":2024.404,"v":50},{"t":2024.413,"v":45},{"t":2024.425,"v":48},{"t":2024.433,"v":55},{"t":2024.443,"v":58},{"t":2024.453,"v":50},{"t":2024.464,"v":62},{"t":2024.471,"v":55},{"t":2024.479,"v":48},{"t":2024.487,"v":55},{"t":2024.494,"v":60},{"t":2024.5,"v":50},{"t":2024.507,"v":45},{"t":2024.515,"v":42},{"t":2024.524,"v":45},{"t":2024.533,"v":42},{"t":2024.543,"v":40},{"t":2024.554,"v":38},{"t":2024.562,"v":42},{"t":2024.569,"v":45},{"t":2024.575,"v":55},{"t":2024.581,"v":70},{"t":2024.587,"v":91},{"t":2024.593,"v":70},{"t":2024.599,"v":55},{"t":2024.606,"v":58},{"t":2024.614,"v":60},{"t":2024.62,"v":52},{"t":2024.627,"v":48},{"t":2024.635,"v":55},{"t":2024.643,"v":62},{"t":2024.651,"v":50},{"t":2024.659,"v":45},{"t":2024.667,"v":50},{"t":2024.675,"v":55},{"t":2024.68,"v":50},{"t":2024.69,"v":48},{"t":2024.697,"v":52},{"t":2024.705,"v":55},{"t":2024.713,"v":50},{"t":2024.72,"v":48},{"t":2024.728,"v":55},{"t":2024.735,"v":62},{"t":2024.743,"v":70},{"t":2024.75,"v":65},{"t":2024.757,"v":50},{"t":2024.765,"v":55},{"t":2024.773,"v":60},{"t":2024.78,"v":65},{"t":2024.788,"v":55},{"t":2024.796,"v":52},{"t":2024.803,"v":58},{"t":2024.811,"v":62},{"t":2024.818,"v":50},{"t":2024.826,"v":48},{"t":2024.835,"v":58},{"t":2024.843,"v":50},{"t":2024.85,"v":45},{"t":2024.856,"v":67},{"t":2024.863,"v":55},{"t":2024.871,"v":50},{"t":2024.88,"v":55},{"t":2024.888,"v":52},{"t":2024.895,"v":62},{"t":2024.902,"v":50},{"t":2024.907,"v":45},{"t":2024.912,"v":50},{"t":2024.916,"v":55},{"t":2024.924,"v":48},{"t":2024.931,"v":40},{"t":2024.938,"v":45},{"t":2024.946,"v":48},{"t":2024.953,"v":45},{"t":2024.961,"v":44},{"t":2024.97,"v":46},{"t":2024.978,"v":48},{"t":2024.985,"v":46},{"t":2024.995,"v":44},{"t":2025.006,"v":42},{"t":2025.013,"v":45},{"t":2025.021,"v":47},{"t":2025.03,"v":44},{"t":2025.037,"v":48},{"t":2025.045,"v":45},{"t":2025.052,"v":40},{"t":2025.06,"v":43},{"t":2025.067,"v":45},{"t":2025.075,"v":42},{"t":2025.082,"v":46},{"t":2025.09,"v":48},{"t":2025.097,"v":45},{"t":2025.105,"v":48},{"t":2025.115,"v":47},{"t":2025.127,"v":48},{"t":2025.133,"v":45},{"t":2025.14,"v":48},{"t":2025.148,"v":50},{"t":2025.155,"v":55},{"t":2025.162,"v":60},{"t":2025.17,"v":72},{"t":2025.176,"v":55},{"t":2025.185,"v":50},{"t":2025.19,"v":45},{"t":2025.194,"v":45},{"t":2025.2,"v":80},{"t":2025.206,"v":124},{"t":2025.212,"v":115},{"t":2025.218,"v":120},{"t":2025.224,"v":90},{"t":2025.229,"v":70},{"t":2025.237,"v":65},{"t":2025.244,"v":60},{"t":2025.252,"v":55},{"t":2025.259,"v":58},{"t":2025.267,"v":50},{"t":2025.275,"v":48},{"t":2025.283,"v":50},{"t":2025.29,"v":45},{"t":2025.297,"v":48},{"t":2025.304,"v":45},{"t":2025.312,"v":50},{"t":2025.32,"v":50},{"t":2025.327,"v":55},{"t":2025.335,"v":68},{"t":2025.342,"v":50},{"t":2025.35,"v":45},{"t":2025.358,"v":48},{"t":2025.365,"v":52},{"t":2025.373,"v":48},{"t":2025.38,"v":45},{"t":2025.388,"v":50},{"t":2025.395,"v":52},{"t":2025.401,"v":48},{"t":2025.408,"v":50},{"t":2025.413,"v":58},{"t":2025.419,"v":50},{"t":2025.426,"v":47},{"t":2025.434,"v":50},{"t":2025.442,"v":48},{"t":2025.448,"v":55},{"t":2025.455,"v":57},{"t":2025.462,"v":50},{"t":2025.468,"v":52},{"t":2025.474,"v":50}
]
},
"columns": 2,
"spacing": {"row": 53, "column": 8},
"concat": [
{
 "width": 490, "height": 265,
 "title": "VBTS Öncesi",
 "data": {"name": "p1"},
 "mark": {"type": "line"},
 "encoding": {
  "x": {"field": "t", "type": "quantitative", "scale": {"domain": [2009.63, 2018.17], "nice": false, "zero": false},
   "axis": {"title": null, "values": [2010,2011,2012,2013,2014,2015,2016,2017,2018], "labelExpr": "datum.value % 2 == 0 ? format(datum.value, 'd') : ''", "gridWidth": {"condition": {"test": "datum.value % 2 != 0", "value": 0.8}, "value": 1.5}}},
  "y": {"field": "v", "type": "quantitative", "scale": {"domain": [9.05, 56.7], "nice": false, "zero": false},
   "axis": {"title": "Yıllıklandırılmış Volatilite (%)", "values": [10,15,20,25,30,35,40,45,50,55], "labelExpr": "datum.value % 10 == 0 ? format(datum.value, 'd') : ''", "gridWidth": {"condition": {"test": "datum.value % 10 != 0", "value": 0.8}, "value": 1.5}}}
 }
},
{
 "width": 479, "height": 265,
 "title": "VBTS Sonrası",
 "data": {"name": "p2"},
 "mark": {"type": "line"},
 "encoding": {
  "x": {"field": "t", "type": "quantitative", "scale": {"domain": [2017.36, 2025.73], "nice": false, "zero": false},
   "axis": {"title": null, "values": [2018,2019,2020,2021,2022,2023,2024,2025], "labelExpr": "datum.value % 2 == 0 ? format(datum.value, 'd') : ''", "gridWidth": {"condition": {"test": "datum.value % 2 != 0", "value": 0.8}, "value": 1.5}}},
  "y": {"field": "v", "type": "quantitative", "scale": {"domain": [13.9, 82.8], "nice": false, "zero": false},
   "axis": {"title": "Yıllıklandırılmış Volatilite (%)", "values": [20,30,40,50,60,70,80], "labelExpr": "datum.value % 20 == 0 ? format(datum.value, 'd') : ''", "gridWidth": {"condition": {"test": "datum.value % 20 != 0", "value": 0.8}, "value": 1.5}}}
 }
},
{
 "width": 489, "height": 264,
 "title": "3 Tedbirli VBTS",
 "data": {"name": "p3"},
 "mark": {"type": "line"},
 "encoding": {
  "x": {"field": "t", "type": "quantitative", "scale": {"domain": [2017.442, 2022.06], "nice": false, "zero": false},
   "axis": {"title": null, "values": [2018,2018.5,2019,2019.5,2020,2020.5,2021,2021.5,2022], "labelExpr": "datum.value % 1 == 0 ? format(datum.value, 'd') : ''", "gridWidth": {"condition": {"test": "datum.value % 1 != 0", "value": 0.8}, "value": 1.5}}},
  "y": {"field": "v", "type": "quantitative", "scale": {"domain": [10.1, 157.6], "nice": false, "zero": false},
   "axis": {"title": "Yıllıklandırılmış Volatilite (%)", "labelPadding": 0.5, "values": [20,40,60,80,100,120,140], "labelExpr": "datum.value % 40 == 0 ? format(datum.value, 'd') : ''", "gridWidth": {"condition": {"test": "datum.value % 40 != 0", "value": 0.8}, "value": 1.5}}}
 }
},
{
 "width": 479, "height": 264,
 "title": "5 Tedbirli VBTS",
 "data": {"name": "p4"},
 "mark": {"type": "line"},
 "encoding": {
  "x": {"field": "t", "type": "quantitative", "scale": {"domain": [2021.582, 2025.59], "nice": false, "zero": false},
   "axis": {"title": null, "values": [2022,2022.5,2023,2023.5,2024,2024.5,2025,2025.5], "labelExpr": "datum.value % 1 == 0 ? format(datum.value, 'd') : ''", "gridWidth": {"condition": {"test": "datum.value % 1 != 0", "value": 0.8}, "value": 1.5}}},
  "y": {"field": "v", "type": "quantitative", "scale": {"domain": [28.8, 202.8], "nice": false, "zero": false},
   "axis": {"title": "Yıllıklandırılmış Volatilite (%)", "labelPadding": 0.5, "values": [50,75,100,125,150,175,200], "labelExpr": "datum.value % 50 == 0 ? format(datum.value, 'd') : ''", "gridWidth": {"condition": {"test": "datum.value % 50 != 0", "value": 0.8}, "value": 1.5}}}
 }
}
]
}
